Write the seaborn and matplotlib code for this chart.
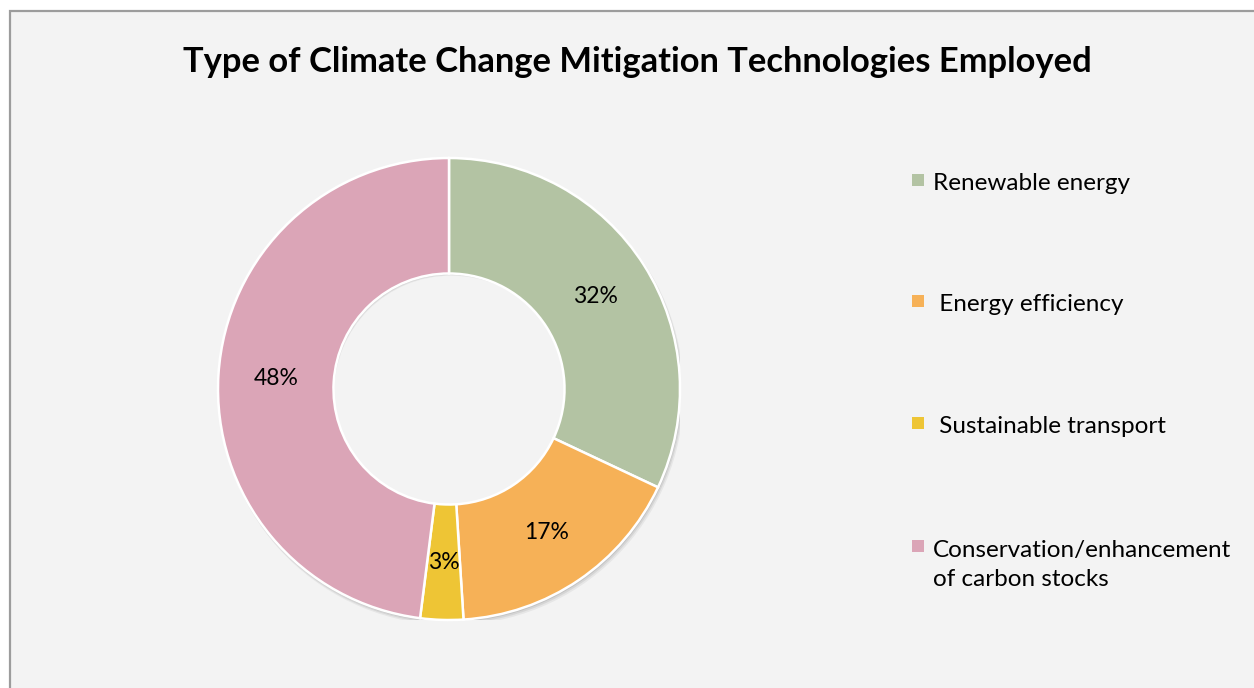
import matplotlib
matplotlib.use("Agg")
import matplotlib.pyplot as plt
from matplotlib.patches import Rectangle, Wedge
import seaborn as sns

# Chart data
categories = ["Renewable energy", "Energy efficiency", "Sustainable transport",
              "Conservation/enhancement\nof carbon stocks"]
legend_labels = ["Renewable energy", " Energy efficiency", " Sustainable transport",
                 "Conservation/enhancement\nof carbon stocks"]
shares = [32, 17, 3, 48]
colors = ["#B3C3A3", "#F6B157", "#EEC535", "#DBA5B7"]

sns.set_theme(style="white")
plt.rcParams["font.family"] = ["Lato", "DejaVu Sans"]

W, H = 1254, 688
fig = plt.figure(figsize=(W / 100, H / 100), dpi=100, facecolor="white")

# Chart area panel with a grey border on the top and left
panel = Rectangle((10 / W, -0.05), 1.1, 1 - 11 / H + 0.05, transform=fig.transFigure,
                  facecolor="#F3F3F3", edgecolor="#9C9C9C", linewidth=1.6, zorder=-5)
fig.patches.append(panel)

fig.text(637 / W, 1 - 62 / H, "Type of Climate Change Mitigation Technologies Employed",
         ha="center", va="center", fontsize=24.8, fontweight="bold", color="black")

# Donut axes: centre at (449, 389) px, outer radius 231 px
cx, cy, r = 449, 389, 231
ax = fig.add_axes([(cx - r) / W, (H - cy - r) / H, 2 * r / W, 2 * r / H])
ax.set_facecolor("none")

# soft drop shadow behind the ring
for off, a in [(0.016, 0.05), (0.011, 0.07), (0.006, 0.09)]:
    ax.add_patch(Wedge((off * 0.6, -off), 1.0 + off * 0.4, 0, 360, width=0.5,
                       color="black", alpha=a, linewidth=0, zorder=0))

palette = sns.color_palette(colors)
wedges, texts, autotexts = ax.pie(
    shares, colors=palette, startangle=90, counterclock=False, radius=1.0,
    autopct=lambda p: f"{p:.0f}%", pctdistance=0.75,
    wedgeprops=dict(width=0.5, edgecolor="white", linewidth=1.8),
    textprops=dict(fontsize=16.5, color="black"))
for w in wedges:
    w.set_zorder(2)
for t in autotexts:
    t.set_zorder(3)
ax.set_xlim(-1, 1)
ax.set_ylim(-1, 1)
ax.set_aspect("equal")
ax.axis("off")

# Legend entries: square swatch followed by the label
swatch_y = [180, 301, 423, 546]      # swatch centres (px from top)
text_baseline = [190, 311, 433, 586]  # baseline of each label's last line
for col, lab, ys, yb in zip(palette, legend_labels, swatch_y, text_baseline):
    fig.patches.append(Rectangle((912 / W, 1 - (ys + 6) / H), 12 / W, 12 / H,
                                 transform=fig.transFigure, facecolor=col,
                                 edgecolor="none", zorder=2))
    fig.text(933 / W, 1 - yb / H, lab, ha="left", va="baseline", fontsize=17.5,
             color="black", linespacing=1.45)

fig.savefig("out.png", dpi=100, facecolor="white")
